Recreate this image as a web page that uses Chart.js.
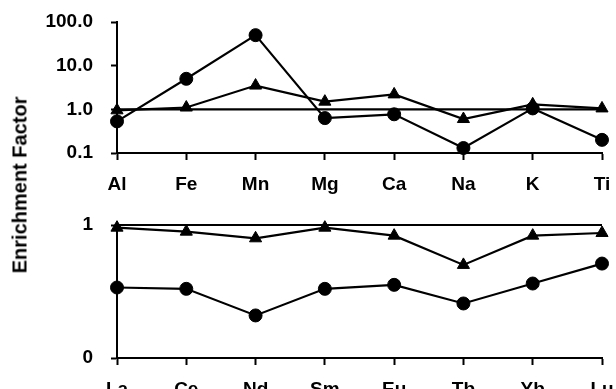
<!DOCTYPE html>
<html>
<head>
<meta charset="utf-8">
<script src="https://cdn.jsdelivr.net/npm/chart.js@4.4.1/dist/chart.umd.min.js"></script>
<style>
  body { margin: 0; background: #fff; overflow: hidden; width: 616px; height: 389px; position: relative; }
  canvas { position: absolute; left: 0; }
  #top { top: 0; }
  #bottom { top: 200px; }
  #ytitle {
    position: absolute; left: 20px; top: 185px;
    transform: translate(-50%, -50%) rotate(-90deg);
    font: bold 20px "Liberation Sans", Arial, sans-serif;
    white-space: nowrap; color: #000;
  }
</style>
</head>
<body>
<canvas id="top" width="616" height="200"></canvas>
<canvas id="bottom" width="616" height="200"></canvas>
<div id="ytitle">Enrichment Factor</div>
<script>
// major elements (log scale)
const majorLabels = ['Al', 'Fe', 'Mn', 'Mg', 'Ca', 'Na', 'K', 'Ti'];
const majorCircles = [0.53, 5.0, 50, 0.63, 0.77, 0.13, 1.05, 0.2];
const majorTriangles = [0.95, 1.1, 3.5, 1.5, 2.2, 0.6, 1.3, 1.05];
const majorTicks = [0.1, 1, 10, 100];

// rare earth elements (linear)
const reeLabels = ['La', 'Ce', 'Nd', 'Sm', 'Eu', 'Tb', 'Yb', 'Lu'];
const reeCircles = [0.53, 0.52, 0.32, 0.52, 0.55, 0.41, 0.56, 0.71];
const reeTriangles = [0.98, 0.95, 0.9, 0.98, 0.92, 0.7, 0.92, 0.94];
const reeTicks = [0, 1];

Chart.defaults.font.family = '"Liberation Sans", Arial, sans-serif';
Chart.defaults.font.weight = 'bold';
Chart.defaults.font.size = 19;
Chart.defaults.color = '#000';

function lineSet(values, style) {
  return {
    data: values,
    borderColor: '#000',
    backgroundColor: '#000',
    borderWidth: 2.2,
    pointStyle: style,
    pointRadius: style ? (style === 'triangle' ? 7 : 6.5) : 0,
    pointBorderWidth: 1,
    tension: 0,
    clip: false
  };
}

function makeChart(id, labels, circles, triangles, yOpts, xHeight, padTop) {
  return new Chart(document.getElementById(id), {
    type: 'line',
    data: {
      labels: labels,
      datasets: [
        lineSet(labels.map(() => 1), null),
        lineSet(triangles, 'triangle'),
        lineSet(circles, 'circle')
      ]
    },
    options: {
      responsive: false,
      animation: false,
      devicePixelRatio: 1,
      layout: { padding: { top: padTop, right: 14, bottom: 0, left: 0 } },
      plugins: { legend: { display: false }, tooltip: { enabled: false } },
      scales: {
        x: {
          offset: false,
          afterFit: s => { s.height = xHeight; s.paddingLeft = 0; s.paddingRight = 0; },
          grid: { drawOnChartArea: false, drawTicks: true, tickLength: 7, tickColor: '#000', tickWidth: 2 },
          border: { color: '#000', width: 2 },
          ticks: { padding: 13, maxRotation: 0, autoSkip: false }
        },
        y: Object.assign({
          afterFit: s => { s.width = 117; s.paddingTop = 0; s.paddingBottom = 0; },
          grid: { drawOnChartArea: false, drawTicks: true, tickLength: 6, tickColor: '#000', tickWidth: 2 },
          border: { color: '#000', width: 2 }
        }, yOpts)
      }
    }
  });
}

makeChart('top', majorLabels, majorCircles, majorTriangles, {
  type: 'logarithmic',
  min: 0.1,
  max: 100,
  afterBuildTicks: s => { s.ticks = majorTicks.map(v => ({ value: v })); },
  ticks: { padding: 18, callback: v => Number(v).toFixed(1) }
}, 47, 22);

makeChart('bottom', reeLabels, reeCircles, reeTriangles, {
  type: 'linear',
  min: 0,
  max: 1,
  afterBuildTicks: s => { s.ticks = reeTicks.map(v => ({ value: v })); },
  ticks: { padding: 18 }
}, 42, 25);
</script>
</body>
</html>
